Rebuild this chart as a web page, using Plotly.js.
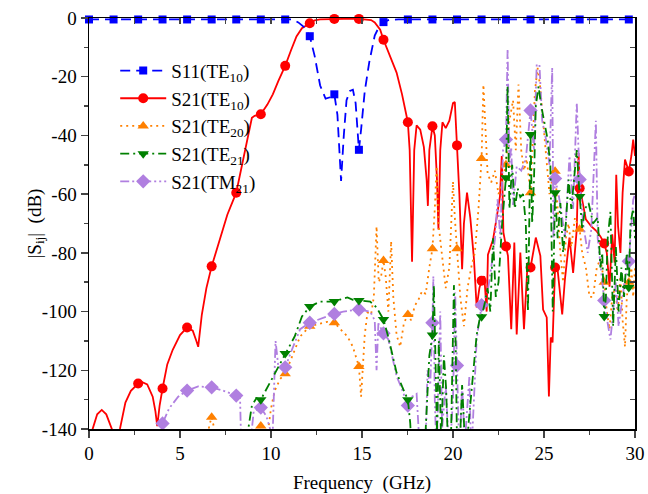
<!DOCTYPE html>
<html>
<head>
<meta charset="utf-8">
<script src="https://cdn.plot.ly/plotly-3.0.1.min.js"></script>
<style>html,body{margin:0;padding:0;background:#fff;}</style>
</head>
<body>
<div id="chart" style="width:648px;height:494px;"></div>
<script>
// ---------- DATA ([frequency GHz, |S| dB]) ----------
const s11Line = [[0,-0.5],[11.2,-0.5],[11.5,-1.5],[11.8,-3],[12.13,-6.2],[12.4,-13],[12.7,-23],[13.0,-27.5],[13.25,-27],[13.48,-26],[13.65,-33],[13.85,-55.5],[14.0,-40],[14.15,-28],[14.34,-24.8],[14.5,-24.4],[14.65,-29],[14.83,-44.9],[14.95,-38],[15.15,-25],[15.4,-15],[15.7,-6],[15.95,-2.8],[16.18,-1.4],[16.5,-0.6],[17.0,-0.5],[30,-0.5]];
const s11MarkF = [0,1.35,2.7,4.04,5.39,6.74,8.09,9.44,10.78,12.13,13.48,14.83,16.18,17.52,18.87,20.22,21.57,22.91,24.26,25.61,26.96,28.31,29.66];
const s11MarkY = [-0.5,-0.5,-0.5,-0.5,-0.5,-0.5,-0.5,-0.5,-0.5,-6.2,-26,-44.9,-1.4,-0.5,-0.5,-0.5,-0.5,-0.5,-0.5,-0.5,-0.5,-0.5,-0.5];

const te10Line = [[0,-150],[0.2,-140],[0.45,-135],[0.7,-133.5],[0.95,-135],[1.2,-139],[1.35,-141],[1.5,-144],[1.7,-140],[2.0,-131],[2.3,-127],[2.7,-124.5],[2.9,-124],[3.2,-124.8],[3.5,-129],[3.65,-134],[3.75,-139],[3.88,-132],[4.04,-126.2],[4.3,-118],[4.6,-113],[5.0,-108],[5.39,-105.4],[5.7,-106.5],[5.9,-110],[6.0,-112],[6.2,-101],[6.45,-92],[6.74,-84.6],[7.2,-75.5],[7.6,-67],[8.09,-59.5],[8.4,-50],[8.7,-41],[8.95,-34],[9.1,-33.3],[9.44,-32.8],[9.8,-29.5],[10.1,-26],[10.4,-21.5],[10.78,-16.3],[11.1,-11],[11.4,-6.3],[11.7,-3.5],[12.13,-1.8],[12.4,-0.8],[12.7,-0.5],[13.0,-0.4],[13.48,-0.3],[14.0,-0.3],[14.83,-0.3],[15.2,-0.4],[15.5,-0.7],[15.7,-1.5],[16.0,-4],[16.18,-7.4],[16.5,-12.5],[16.9,-18.6],[17.2,-26],[17.52,-35.5],[17.62,-45],[17.75,-83],[17.87,-45],[18.0,-36.6],[18.2,-38],[18.4,-44],[18.55,-55],[18.62,-64],[18.7,-45],[18.87,-36.9],[19.0,-40],[19.12,-55],[19.2,-72],[19.3,-45],[19.42,-35.5],[19.6,-37.5],[19.8,-35],[20.0,-29],[20.1,-28.6],[20.22,-43.4],[20.35,-60],[20.5,-85.6],[20.6,-70],[20.77,-59.5],[20.95,-68],[21.15,-82],[21.3,-98.6],[21.45,-92],[21.57,-89.5],[21.72,-88],[21.85,-100],[21.92,-80.6],[22.05,-78],[22.2,-75.5],[22.4,-68],[22.58,-60.8],[22.68,-47],[22.77,-73],[22.91,-77.8],[23.02,-81],[23.2,-106],[23.37,-76.5],[23.5,-107.8],[23.7,-79.9],[23.9,-106],[24.1,-83.3],[24.26,-85],[24.55,-74.8],[24.8,-81],[24.95,-99.3],[25.15,-102],[25.27,-128.9],[25.37,-108.8],[25.47,-110.5],[25.61,-85],[25.72,-84],[26.0,-101],[26.15,-89],[26.4,-74.8],[26.6,-86.8],[26.8,-72],[26.9,-46],[26.96,-58],[27.07,-61],[27.3,-68.6],[27.6,-71],[27.9,-72.7],[28.1,-74.4],[28.31,-76.8],[28.45,-80],[28.6,-91.5],[28.75,-73.7],[28.88,-83.3],[28.97,-53.4],[29.07,-71],[29.2,-80],[29.32,-59.5],[29.45,-48.2],[29.66,-52.3],[29.8,-47],[29.9,-41.4],[30,-47]];
const te10MarkF = [1.35,2.7,4.04,5.39,6.74,8.09,9.44,10.78,12.13,13.48,14.83,16.18,17.52,18.87,20.22,21.57,22.91,24.26,25.61,26.96,28.31,29.66];
const te10MarkY = [-141,-124.5,-126.2,-105.4,-84.6,-59.5,-32.8,-16.3,-1.8,-0.3,-0.3,-7.4,-35.5,-36.9,-43.4,-89.5,-77.8,-85,-85,-58,-76.8,-52.3];

const te20Line = [[6.45,-150],[6.6,-139],[6.74,-136],[6.85,-139],[7.0,-150],[9.2,-150],[9.3,-141],[9.44,-139],[9.55,-142],[9.7,-150],[9.85,-140],[10.0,-133],[10.2,-127],[10.5,-123],[10.78,-121.2],[11.2,-114.6],[11.6,-108.5],[12.13,-105],[12.7,-104],[13.1,-103.5],[13.48,-103.8],[13.8,-106],[14.2,-108.5],[14.5,-112],[14.83,-118.7],[14.95,-129],[15.05,-118],[15.15,-108],[15.3,-100.3],[15.5,-101],[15.65,-95],[15.8,-71],[15.92,-90],[16.05,-88],[16.18,-82.6],[16.3,-88],[16.45,-100],[16.6,-76],[16.72,-95],[16.9,-108],[17.1,-112],[17.3,-104],[17.52,-101],[17.7,-103],[17.9,-98],[18.1,-96],[18.3,-93],[18.5,-94],[18.7,-85],[18.87,-78.6],[19.0,-65],[19.1,-50.5],[19.2,-70],[19.4,-80],[19.6,-92],[19.8,-85],[20.0,-55.7],[20.1,-68],[20.22,-78.6],[20.4,-95],[20.6,-105],[20.8,-92],[21.0,-85],[21.2,-80],[21.4,-65],[21.57,-47.9],[21.67,-22.7],[21.78,-40],[21.9,-53],[22.1,-56],[22.3,-52],[22.5,-60],[22.7,-55],[22.91,-50],[23.1,-35],[23.3,-28],[23.45,-45],[23.6,-22.7],[23.75,-45],[23.9,-52],[24.05,-48],[24.26,-59.5],[24.4,-40],[24.5,-25],[24.65,-17],[24.8,-24],[24.95,-35],[25.1,-45],[25.3,-60],[25.45,-55],[25.61,-52.2],[25.75,-65],[25.9,-80],[26.05,-90],[26.2,-75],[26.35,-70],[26.5,-78],[26.7,-68],[26.96,-72],[27.1,-80],[27.3,-85],[27.5,-95],[27.7,-95],[27.9,-85],[28.1,-82],[28.31,-90],[28.45,-100],[28.6,-106],[28.75,-95],[28.9,-92],[29.05,-100],[29.2,-88],[29.32,-103],[29.45,-112],[29.55,-95],[29.66,-90],[29.8,-85],[29.9,-95],[30,-85]];
const te20MarkF = [6.74,9.44,10.78,12.13,13.48,14.83,16.18,17.52,18.87,20.22,21.57,22.91,24.26,25.61,26.96,28.31,29.66];
const te20MarkY = [-136,-139,-121.2,-105,-103.8,-118.7,-82.6,-101,-78.6,-78.6,-47.9,-50,-59.5,-52.2,-72,-90,-90];

const te21Line = [[8.6,-150],[8.75,-140],[8.95,-132],[9.2,-129.5],[9.44,-130],[9.8,-125.8],[10.2,-120.8],[10.78,-114.3],[11.3,-108.5],[11.7,-101.7],[12.13,-98.3],[12.7,-96.6],[13.48,-96.6],[13.8,-95.9],[14.2,-95.2],[14.5,-96],[14.83,-96.2],[15.45,-96.6],[15.8,-98.6],[16.18,-102.7],[16.45,-108.8],[16.7,-115],[16.9,-120.8],[17.2,-125.5],[17.52,-130],[17.65,-138],[17.75,-150],[18.0,-145],[18.3,-150],[18.5,-140],[18.7,-115],[18.87,-108],[18.95,-91],[19.05,-120],[19.12,-142],[19.22,-110],[19.35,-145],[19.5,-115],[19.62,-126],[19.75,-150],[19.9,-140],[20.05,-91],[20.15,-112],[20.22,-145],[20.35,-150],[20.5,-125],[20.7,-150],[20.9,-135],[21.1,-122],[21.3,-108],[21.45,-103],[21.57,-101.8],[21.75,-97],[21.9,-92],[22.05,-100],[22.2,-75],[22.35,-95],[22.5,-90],[22.7,-70],[22.91,-54.4],[23.0,-23.3],[23.1,-65],[23.25,-50],[23.4,-65],[23.55,-58],[23.7,-61],[23.85,-60],[24.0,-70],[24.12,-100],[24.26,-39.7],[24.35,-70],[24.45,-55],[24.55,-30],[24.7,-23.3],[24.85,-30],[25.0,-35],[25.2,-41.4],[25.35,-50],[25.48,-100],[25.61,-59.5],[25.75,-75],[25.9,-63],[26.05,-80],[26.2,-70],[26.35,-55],[26.5,-65],[26.7,-50],[26.8,-45],[26.96,-60.8],[27.1,-72],[27.25,-65],[27.45,-63],[27.7,-70],[27.95,-68],[28.1,-85],[28.2,-80],[28.31,-101.7],[28.4,-95],[28.5,-75],[28.65,-66],[28.8,-105],[28.95,-78],[29.1,-100],[29.25,-85],[29.4,-95],[29.55,-80],[29.66,-91.8],[29.75,-70],[29.9,-65],[30,-75]];
const te21MarkF = [9.44,10.78,12.13,13.48,14.83,16.18,17.52,18.87,21.57,22.91,24.26,25.61,26.96,28.31,29.66];
const te21MarkY = [-130,-114.3,-98.3,-96.6,-96.2,-102.7,-130,-108,-101.8,-54.4,-39.7,-59.5,-60.8,-101.7,-91.8];

const tm21Line = [[3.85,-145],[4.04,-138.1],[4.4,-133],[4.9,-129],[5.39,-126.9],[6.0,-125.5],[6.74,-125.8],[7.4,-127],[8.09,-128.6],[8.3,-129.5],[8.38,-150],[8.85,-150],[8.95,-140],[9.05,-134],[9.44,-132.7],[9.75,-135.7],[9.95,-140],[10.05,-150],[10.15,-130],[10.25,-110],[10.4,-118.6],[10.78,-119],[11.15,-113],[11.6,-106],[12.13,-103.8],[12.9,-102],[13.48,-100.8],[13.97,-100],[14.83,-99.3],[15.45,-100],[15.7,-103],[15.8,-120],[15.9,-104],[16.18,-107.4],[16.45,-109.5],[16.65,-115],[16.9,-122],[17.2,-126.5],[17.52,-132],[17.75,-129],[18.0,-128],[18.2,-150],[18.5,-145],[18.6,-120],[18.75,-125],[18.87,-103.8],[18.92,-88],[19.0,-130],[19.1,-150],[19.3,-100],[19.4,-140],[19.6,-125],[19.8,-150],[20.0,-130],[20.12,-93.5],[20.22,-118.4],[20.35,-150],[20.5,-125],[20.65,-145],[20.9,-122],[21.0,-150],[21.15,-130],[21.3,-109.5],[21.57,-97.8],[21.9,-93.5],[22.1,-85],[22.3,-75.5],[22.45,-61.8],[22.6,-75],[22.75,-45],[22.91,-41.4],[23.0,-10.7],[23.1,-50],[23.2,-44],[23.3,-63.7],[23.5,-50.6],[23.75,-52],[24.0,-48],[24.26,-31.5],[24.45,-45],[24.6,-15.8],[24.75,-16],[24.9,-35],[25.1,-41],[25.3,-50],[25.45,-16.9],[25.52,-75],[25.61,-54.7],[25.8,-60],[26.0,-68],[26.15,-75],[26.4,-47],[26.6,-65],[26.8,-28.8],[26.96,-55],[27.15,-70],[27.4,-80],[27.6,-72],[27.85,-35],[27.95,-75],[28.1,-83],[28.31,-96.2],[28.5,-104],[28.65,-109.5],[28.8,-100],[28.95,-90],[29.1,-105],[29.3,-96],[29.45,-89],[29.66,-82.9],[29.8,-70],[29.9,-62],[30,-60]];
const tm21MarkF = [4.04,5.39,6.74,8.09,9.44,10.78,12.13,13.48,14.83,16.18,17.52,18.87,20.22,21.57,22.91,24.26,25.61,26.96,28.31,29.66];
const tm21MarkY = [-138.1,-126.9,-125.8,-128.6,-132.7,-119,-103.8,-100.8,-99.3,-107.4,-132,-103.8,-118.4,-97.8,-41.4,-31.5,-54.7,-55,-96.2,-82.9];

const seriesNames = ['S11(TE<sub>10</sub>)','S21(TE<sub>10</sub>)','S21(TE<sub>20</sub>)','S21(TE<sub>21</sub>)','S21(TM<sub>21</sub>)'];
const yTickVals = [-140,-120,-100,-80,-60,-40,-20,0];
const yTickText = ['-140','-120','-100','-80','-60','-40','-20','0'];
const xTickVals = [0,5,10,15,20,25,30];
const xTickText = ['0','5','10','15','20','25','30'];

// ---------- STYLES ----------
const styles = [
  {color:'#0000FF', dash:'10px,6px', symbol:'square', size:8},
  {color:'#FF0000', dash:'solid', symbol:'circle', size:10},
  {color:'#FF8000', dash:'2px,4px', symbol:'triangle-up', size:10},
  {color:'#008000', dash:'9px,4px,2px,4px', symbol:'triangle-down', size:10},
  {color:'#B07FE0', dash:'9px,3px,2px,3px,2px,3px', symbol:'diamond', size:11}
];
const lines = [s11Line, te10Line, te20Line, te21Line, tm21Line];
const marks = [[s11MarkF,s11MarkY],[te10MarkF,te10MarkY],[te20MarkF,te20MarkY],[te21MarkF,te21MarkY],[tm21MarkF,tm21MarkY]];
const drawOrder = [1,2,4,3,0];

const traces = [];
drawOrder.forEach(i => {
  const st = styles[i];
  traces.push({x: lines[i].map(p=>p[0]), y: lines[i].map(p=>p[1]), mode:'lines', type:'scatter',
    line:{color:st.color, width:1.8, dash:st.dash}, showlegend:false, hoverinfo:'skip'});
  traces.push({x: marks[i][0], y: marks[i][1], mode:'markers', type:'scatter', cliponaxis:false,
    marker:{color:st.color, symbol:st.symbol, size:st.size, line:{width:0}}, showlegend:false, hoverinfo:'skip'});
});
seriesNames.forEach((nm,i) => {
  const st = styles[i];
  traces.push({x:[null], y:[null], mode:'lines+markers', type:'scatter', name:nm, legendgroup:'g'+i, legendrank:i+1,
    line:{color:st.color, width:1.8, dash:st.dash}, marker:{color:st.color, symbol:st.symbol, size:st.size, line:{width:0}}});
});
// dummy trace for mirrored (inside) tick axes
traces.push({x:[null], y:[null], xaxis:'x2', yaxis:'y2', mode:'markers', showlegend:false, hoverinfo:'skip'});

const font = 'Liberation Serif';
const layout = {
  width:648, height:494,
  margin:{l:89, r:13, t:18, b:65},
  paper_bgcolor:'#fff', plot_bgcolor:'#fff',
  font:{family:font, color:'#000', size:18},
  showlegend:true,
  legend:{x:0.048, y:0.918, xanchor:'left', yanchor:'top', bgcolor:'rgba(0,0,0,0)',
    font:{family:font, size:19, color:'#000'}, itemwidth:46, tracegroupgap:3, traceorder:'normal'},
  xaxis:{range:[0,30], tickmode:'array', tickvals:xTickVals, ticktext:xTickText, ticks:'outside', ticklen:7, tickwidth:1.5,
    showline:true, linewidth:1.5, linecolor:'#000', mirror:true, showgrid:false, zeroline:false,
    tickfont:{family:font, size:19},
    minor:{tickvals:[2.5,7.5,12.5,17.5,22.5,27.5], ticks:'outside', ticklen:4, tickwidth:1.5, showgrid:false},
    title:{text:'Frequency  (GHz)', font:{family:font, size:19}}},
  yaxis:{range:[-140,0], tickmode:'array', tickvals:yTickVals, ticktext:yTickText, ticks:'outside', ticklen:7, tickwidth:1.5,
    showline:true, linewidth:1.5, linecolor:'#000', mirror:true, showgrid:false, zeroline:false,
    tickfont:{family:font, size:19},
    minor:{tickvals:[-130,-110,-90,-70,-50,-30,-10], ticks:'outside', ticklen:4, tickwidth:1.5, showgrid:false},
    title:{text:'|S<sub>ij</sub>|  (dB)', font:{family:font, size:19}}},
  xaxis2:{overlaying:'x', side:'top', range:[0,30], dtick:2.5, ticks:'inside', ticklen:6, tickwidth:1.5,
    showticklabels:false, showline:false, showgrid:false, zeroline:false},
  yaxis2:{overlaying:'y', side:'right', range:[-140,0], dtick:10, ticks:'inside', ticklen:5, tickwidth:1.5,
    showticklabels:false, showline:false, showgrid:false, zeroline:false}
};
Plotly.newPlot('chart', traces, layout, {displayModeBar:false, staticPlot:true});
</script>
</body>
</html>
